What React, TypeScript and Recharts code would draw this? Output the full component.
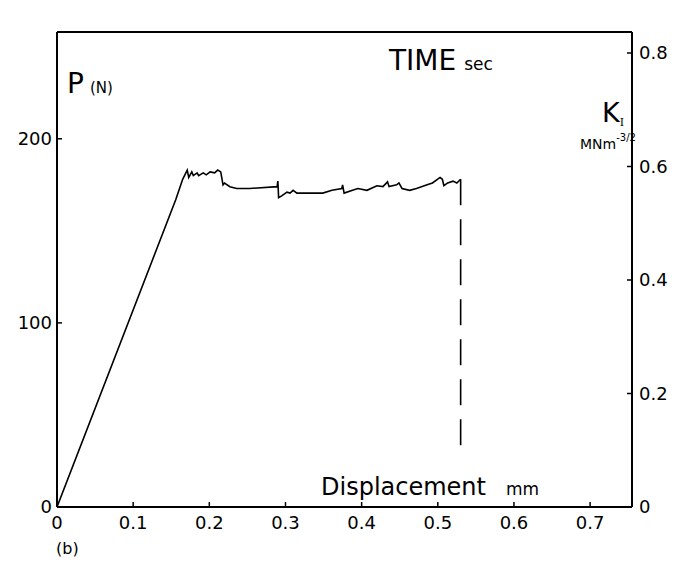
import { LineChart, Line, XAxis, YAxis } from 'recharts';

// load trace: displacement (mm) vs load P (N)
const displacement = [
  0, 0.156, 0.165, 0.171, 0.173, 0.177, 0.179, 0.184, 0.186, 0.192,
  0.196, 0.201, 0.207, 0.211, 0.215, 0.218, 0.22, 0.227, 0.236, 0.253,
  0.289, 0.29, 0.291, 0.295, 0.302, 0.306, 0.31, 0.315, 0.349, 0.361,
  0.374, 0.375, 0.377, 0.388, 0.395, 0.407, 0.42, 0.428, 0.434, 0.436,
  0.446, 0.449, 0.453, 0.463, 0.472, 0.486, 0.493, 0.503, 0.506, 0.508,
  0.513, 0.52, 0.525, 0.53,
];
const load = [
  0, 167, 178, 183, 179, 182, 180, 181.5, 180, 181.5,
  180.4, 182, 181.5, 183, 182, 175, 176, 174, 173, 173,
  174, 177, 168, 169, 171, 170.5, 172, 170.5, 170.5, 172,
  173, 175, 170.5, 172, 173, 172, 174.5, 174, 176.6, 174,
  175, 176, 173, 172, 173, 175, 176, 179, 178, 174.5,
  176, 177, 176, 178,
];

// dashed drop at fracture
const dropDisplacement = [0.53, 0.53];
const dropLoad = [178, 31];

const dispTicks = [0, 0.1, 0.2, 0.3, 0.4, 0.5, 0.6, 0.7];
const timeTicks = [0, 100, 200];
const loadTicks = [0, 100, 200];
const kTicks = [0, 0.2, 0.4, 0.6, 0.8];

const trace = displacement.map((d, i) => ({ d, p: load[i] }));
const drop = dropDisplacement.map((d, i) => ({ d, p: dropLoad[i] }));

const FONT = '"DejaVu Sans", sans-serif';
const tickStyle = { fill: '#000', fontSize: 18, fontFamily: FONT };
const axisLine = { stroke: '#000', strokeWidth: 2 };
const tickLine = { stroke: '#000', strokeWidth: 1.5 };

export default function App() {
  return (
    <div style={{ position: 'relative', width: 668, height: 555 }}>
      <LineChart width={668} height={555} margin={{ top: 0, right: 0, bottom: 0, left: 0 }}>
        <XAxis
          xAxisId="d"
          type="number"
          dataKey="d"
          domain={[0, 0.755]}
          ticks={dispTicks}
          allowDataOverflow
          orientation="bottom"
          height={56}
          tickSize={-5}
          tickMargin={14}
          axisLine={axisLine}
          tickLine={tickLine}
          tick={tickStyle}
          tickFormatter={(v) => String(v)}
        />
        <XAxis
          xAxisId="t"
          type="number"
          domain={[0, 227]}
          ticks={timeTicks}
          allowDataOverflow
          orientation="top"
          height={24}
          tickSize={-5}
          tickMargin={10}
          axisLine={axisLine}
          tickLine={tickLine}
          tick={tickStyle}
        />
        <YAxis
          yAxisId="p"
          type="number"
          domain={[0, 258]}
          ticks={loadTicks}
          allowDataOverflow
          orientation="left"
          width={49}
          tickSize={-5}
          tickMargin={10}
          axisLine={axisLine}
          tickLine={tickLine}
          tick={tickStyle}
        />
        <YAxis
          yAxisId="k"
          type="number"
          domain={[0, 0.837]}
          ticks={kTicks}
          allowDataOverflow
          orientation="right"
          width={44}
          tickSize={-5}
          tickMargin={12}
          axisLine={axisLine}
          tickLine={tickLine}
          tick={tickStyle}
          tickFormatter={(v) => String(v)}
        />
        <Line
          data={trace}
          xAxisId="d"
          yAxisId="p"
          dataKey="p"
          stroke="#000"
          strokeWidth={1.6}
          dot={false}
          type="linear"
          isAnimationActive={false}
        />
        <Line
          data={drop}
          xAxisId="d"
          yAxisId="p"
          dataKey="p"
          stroke="#000"
          strokeWidth={1.6}
          strokeDasharray="26 14"
          dot={false}
          type="linear"
          isAnimationActive={false}
        />
      </LineChart>
      <svg
        width={668}
        height={555}
        style={{ position: 'absolute', left: 0, top: 0, pointerEvents: 'none' }}
        fontFamily={FONT}
        fill="#000"
      >
        <text x={59} y={85} fontSize={28}>
          P<tspan fontSize={15} dx={6}>(N)</tspan>
        </text>
        <text x={381} y={62} fontSize={28}>
          TIME<tspan fontSize={17} dx={8}>sec</tspan>
        </text>
        <text x={594} y={114} fontSize={27}>
          K<tspan fontSize={11} dy={4} fontFamily="'DejaVu Serif', serif">I</tspan>
        </text>
        <text x={572} y={141} fontSize={14}>
          MNm<tspan fontSize={10} dy={-8}>-3/2</tspan>
        </text>
        <text x={313} y={487} fontSize={24}>
          Displacement<tspan fontSize={17} dx={20}>mm</tspan>
        </text>
        <text x={48} y={546} fontSize={16}>(b)</text>
      </svg>
    </div>
  );
}
